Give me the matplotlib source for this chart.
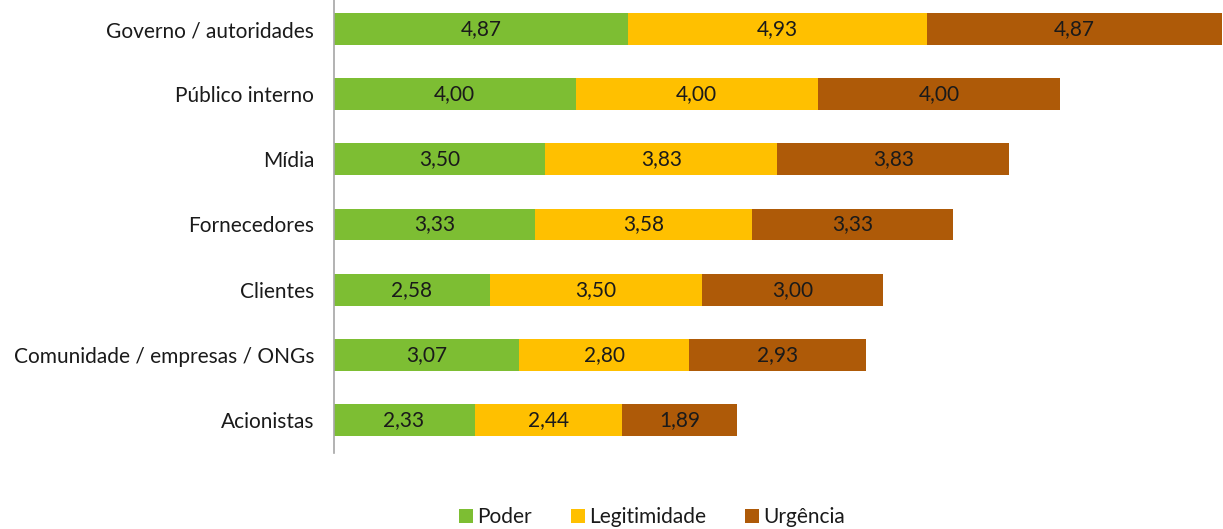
import matplotlib.pyplot as plt
from matplotlib.patches import Patch

plt.rcParams['font.family'] = ['Lato', 'DejaVu Sans']

categories = ["Governo / autoridades", "Público interno", "Mídia", "Fornecedores",
              "Clientes", "Comunidade / empresas / ONGs", "Acionistas"]
poder = [4.87, 4.00, 3.50, 3.33, 2.58, 3.07, 2.33]
legitimidade = [4.93, 4.00, 3.83, 3.58, 3.50, 2.80, 2.44]
urgencia = [4.87, 4.00, 3.83, 3.33, 3.00, 2.93, 1.89]

series = [("Poder", poder, "#7DBE33"),
          ("Legitimidade", legitimidade, "#FFC000"),
          ("Urgência", urgencia, "#AE5A08")]

W, H = 1223, 529
fig = plt.figure(figsize=(W / 100, H / 100), dpi=100)

# plot area in pixel units: 1 value unit ~ 60.54 px, one category band ~ 65.1 px
left_px, bottom_px, top_px = 333.5, 452.5, -3.5
xmax = 15.0
unit_px = 60.54
ax = fig.add_axes([left_px / W, (H - bottom_px) / H,
                   xmax * unit_px / W, (bottom_px - top_px) / H])

y = list(range(len(categories)))
left = [0.0] * len(categories)
for name, vals, color in series:
    ax.barh(y, vals, left=left, height=0.49, color=color, label=name)
    for yi, l, v in zip(y, left, vals):
        ax.text(l + v / 2, yi, f"{v:.2f}".replace(".", ","), ha="center",
                va="center", fontsize=15, color="#1a1a1a")
    left = [l + v for l, v in zip(left, vals)]

ax.set_xlim(0, xmax)
ax.set_ylim(6.5, -0.5)
ax.set_yticks(y)
ax.set_yticklabels(categories, fontsize=15, color="#1a1a1a")
ax.tick_params(axis="y", length=0, pad=14)
ax.set_xticks([])
for s in ["top", "right", "bottom"]:
    ax.spines[s].set_visible(False)
ax.spines["left"].set_color("#a6a6a6")
ax.spines["left"].set_linewidth(1.2)

handles = [Patch(facecolor=c, label=n) for n, _, c in series]
fig.legend(handles=handles, loc="center", bbox_to_anchor=(652 / W, (H - 517) / H),
           ncol=3, frameon=False, fontsize=15, handlelength=0.65, handleheight=0.65,
           handletextpad=0.2, columnspacing=1.9, labelcolor="#1a1a1a")

fig.savefig("out.png", dpi=100)
